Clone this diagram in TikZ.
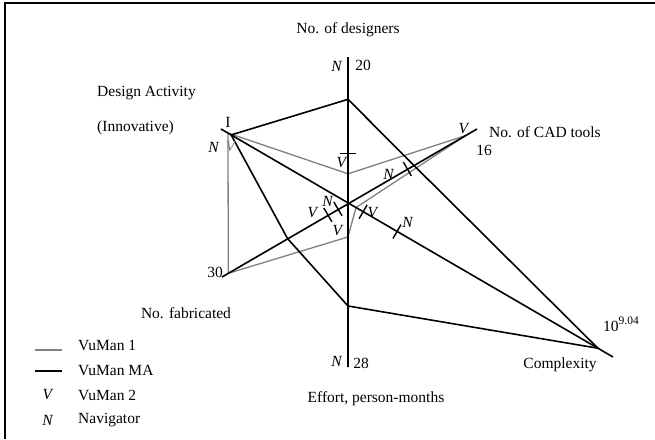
\documentclass[tikz,border=0pt]{standalone}
\usepackage{fontspec}
\setmainfont{Liberation Serif}
\usepackage{tikz}
\usetikzlibrary{calc}

\begin{document}
\begin{tikzpicture}[x=1pt, y=-1pt,
        every node/.style={font=\fontsize{15.5}{18}\selectfont, inner sep=0pt},
        axis/.style={line width=1.6pt, black},
        vuma/.style={line width=1.6pt, black, line join=miter},
        vuone/.style={line width=1.3pt, gray, line join=round},
        mtick/.style={line width=1.4pt}]
    \useasboundingbox (0,0) rectangle (655,439);
    \draw[line width=1.2pt] (5,439) -- (5,3) -- (655,3);
    % axes
    \coordinate (c) at (348,203);
    \coordinate (des) at (348,57);
    \coordinate (eff) at (348,367);
    \coordinate (act) at (221,129);
    \coordinate (cpx) at (613,357);
    \coordinate (cad) at (477,129);
    \coordinate (fab) at (222,277);
    % VuMan 1
    \draw[vuone] ($(c)!0.945!(act)$) -- ($(c)!0.2!(des)$) -- ($(c)!0.91!(cad)$) -- ($(c)!0.03!(cpx)$)
        -- ($(c)!0.207!(eff)$) -- ($(c)!0.95!(fab)$) -- cycle;
    \draw[axis] (des) -- (eff) (act) -- (cpx) (cad) -- (fab);
    % VuMan MA
    \draw[vuma] ($(c)!0.71!(des)$) -- ($(c)!0.92!(act)$) -- ($(c)!0.48!(fab)$) -- ($(c)!0.628!(eff)$)
        -- ($(c)!0.943!(cpx)$) -- ($(c)!0.51!(cad)$) -- cycle;
    % VuMan 2 and Navigator marks
    \foreach \ax/\t in {des/0.34, cad/0.46, cpx/0.185, fab/0.08, fab/0.16, cpx/0.057}{
        \coordinate (p) at ($(c)!\t!(\ax)$);
        \draw[mtick] ($(p)!8pt!90:(c)$) -- ($(p)!8pt!-90:(c)$);
    }
    \node (m1) at (342,163) {\textit{V}};
    \node (m2) at (389,174) {\textit{N}};
    \node (m3) at (408,222) {\textit{N}};
    \node (m4) at (328,201) {\textit{N}};
    \node (m5) at (313,213) {\textit{V}};
    \node (m6) at (373,213) {\textit{V}};
    \node (m7) at (338,231) {\textit{V}};
    \node (m8) at (464,129) {\textit{V}};
    \node (m9) at (214,147) {\textit{N}};
    \node[text=gray] (m10) at (231,147) {\textit{V}};
    % axis labels
    \node (ldes) at (348,30) {No. of designers};
    \node (ndes) at (337,66) {\textit{N}};
    \node (vdes) at (363,65) {20};
    \node[anchor=west] (lact) at (97,93) {Design Activity};
    \node[anchor=west] (lact2) at (97,128) {(Innovative)};
    \node (vact) at (228,122) {I};
    \node[anchor=west] (lcad) at (489,132) {No. of CAD tools};
    \node (vcad) at (484,150) {16};
    \node (vfab) at (215,272) {30};
    \node (lfab) at (186,313) {No. fabricated};
    \node (neff) at (337,361) {\textit{N}};
    \node (veff) at (361,363) {28};
    \node (leff) at (376,399) {Effort, person-months};
    \node (vcpx) at (621,324) {10\raisebox{0.42em}{\fontsize{11.5}{12}\selectfont 9.04}};
    \node (lcpx) at (560,365) {Complexity};
    % legend
    \draw[vuone] (35,350) -- (62,350);
    \draw[vuma] (35,371) -- (62,371);
    \node (kv) at (48,395) {\textit{V}};
    \node (kn) at (48,420) {\textit{N}};
    \node[anchor=west] (k1) at (78,345) {VuMan 1};
    \node[anchor=west] (k2) at (78,370) {VuMan MA};
    \node[anchor=west] (k3) at (78,395) {VuMan 2};
    \node[anchor=west] (k4) at (78,420) {Navigator};
\end{tikzpicture}
\end{document}
